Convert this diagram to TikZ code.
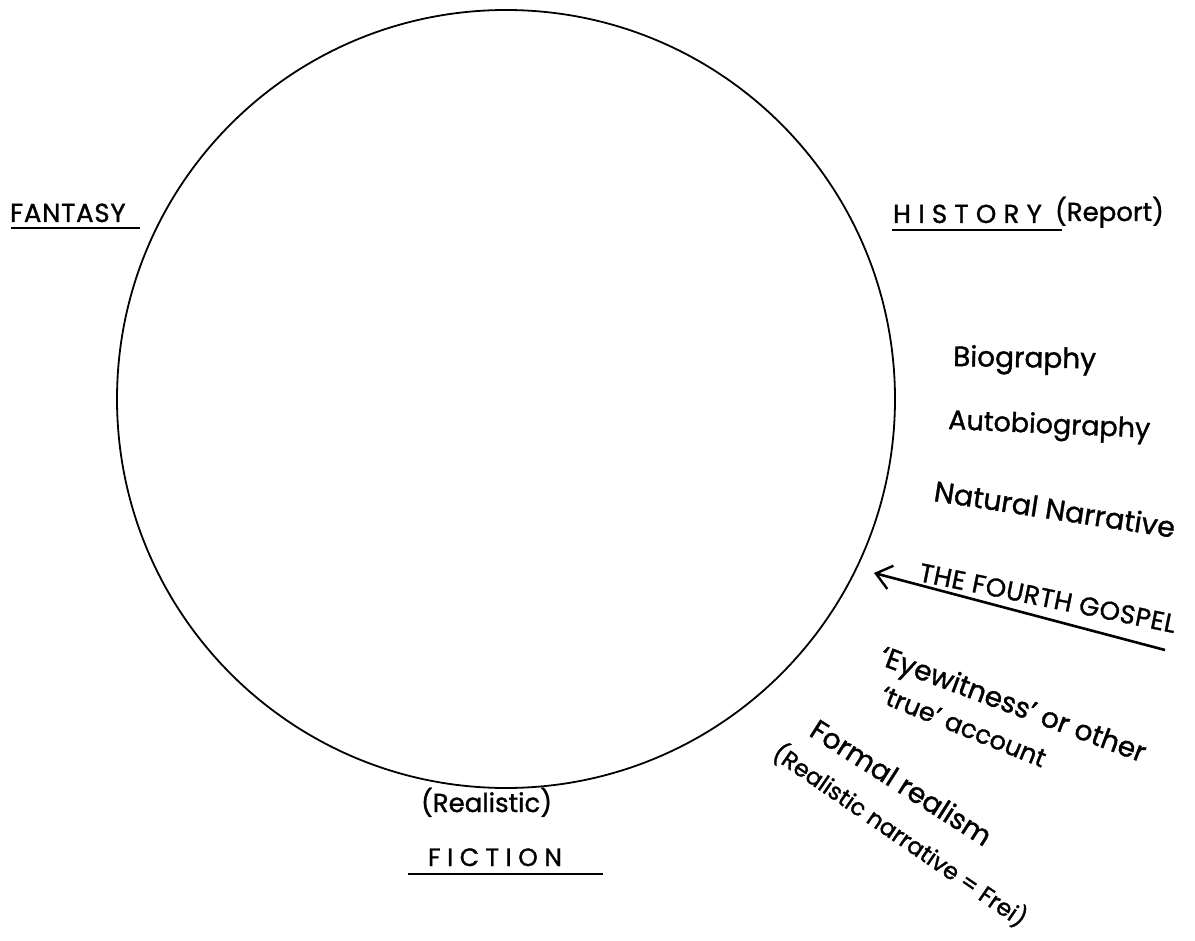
\documentclass[tikz,border=0pt]{standalone}
\usepackage{fontspec}
\setmainfont{Poppins}[FakeBold=1.2]
\usetikzlibrary{arrows.meta}
\tikzset{
  lbl/.style={inner sep=0pt, outer sep=0pt, anchor=base west, text=black},
  uline/.style={line width=2.6pt},
  ring/.style={line width=1.8pt},
}
\newcommand{\fsz}[1]{\fontsize{#1}{#1}\selectfont}
\newcommand{\spaced}[1]{\addfontfeature{LetterSpace=#1}}
\begin{document}
\begin{tikzpicture}[x=1pt,y=-1pt]
\useasboundingbox (0,0) rectangle (1195,941);
\node[circle, draw, ring, minimum size=778pt, inner sep=0pt] (ring) at (506,399) {};

\node[lbl, font=\fsz{26pt}\spaced{3}] (fantasy) at (10,222) {FANTASY};
\coordinate (fa1) at (11,228); \coordinate (fa2) at (140,228);
\draw[uline] (fa1) -- (fa2);

\node[lbl, font=\fsz{26pt}\spaced{28}] (history) at (893,223) {HISTORY};
\node[lbl, font=\fsz{26pt}] (report) at (1055,221) {(Report)};
\coordinate (hi1) at (892,230); \coordinate (hi2) at (1062,230);
\draw[uline] (hi1) -- (hi2);

\node[lbl, font=\fsz{28pt}, rotate=-1] (bio) at (953,366) {Biography};
\node[lbl, font=\fsz{27pt}, rotate=-2.5] (auto) at (948,429) {Autobiography};
\node[lbl, font=\fsz{28.5pt}, rotate=-8.7] (natural) at (933,501) {Natural Narrative};

\node[lbl, font=\fsz{26pt}\spaced{2}, rotate=-11.5] (gospel) at (918,581) {THE FOURTH GOSPEL};
\coordinate (gtail) at (1165,650);
\coordinate (gtip) at (874,573);
\draw[uline, -{Straight Barb[length=15pt,width=24pt,line width=2.4pt]}] (gtail) -- (gtip);

\node[lbl, font=\fsz{28pt}, rotate=-20.5] (eye) at (878,664) {‘Eyewitness’ or other};
\node[lbl, font=\fsz{25.5pt}, rotate=-22] (trueacc) at (879,702) {‘true’ account};
\node[lbl, font=\fsz{28pt}, rotate=-32.5] (formal) at (808,735) {Formal realism};
\node[lbl, font=\fsz{23.5pt}, rotate=-34.5] (frei) at (771,757) {(Realistic narrative = Frei)};

\node[lbl, font=\fsz{26pt}] (realistic) at (421,812) {(Realistic)};
\node[lbl, font=\fsz{25pt}\spaced{26}] (fiction) at (428,866) {FICTION};
\coordinate (fi1) at (408,874); \coordinate (fi2) at (603,874);
\draw[uline] (fi1) -- (fi2);
\end{tikzpicture}
\end{document}
